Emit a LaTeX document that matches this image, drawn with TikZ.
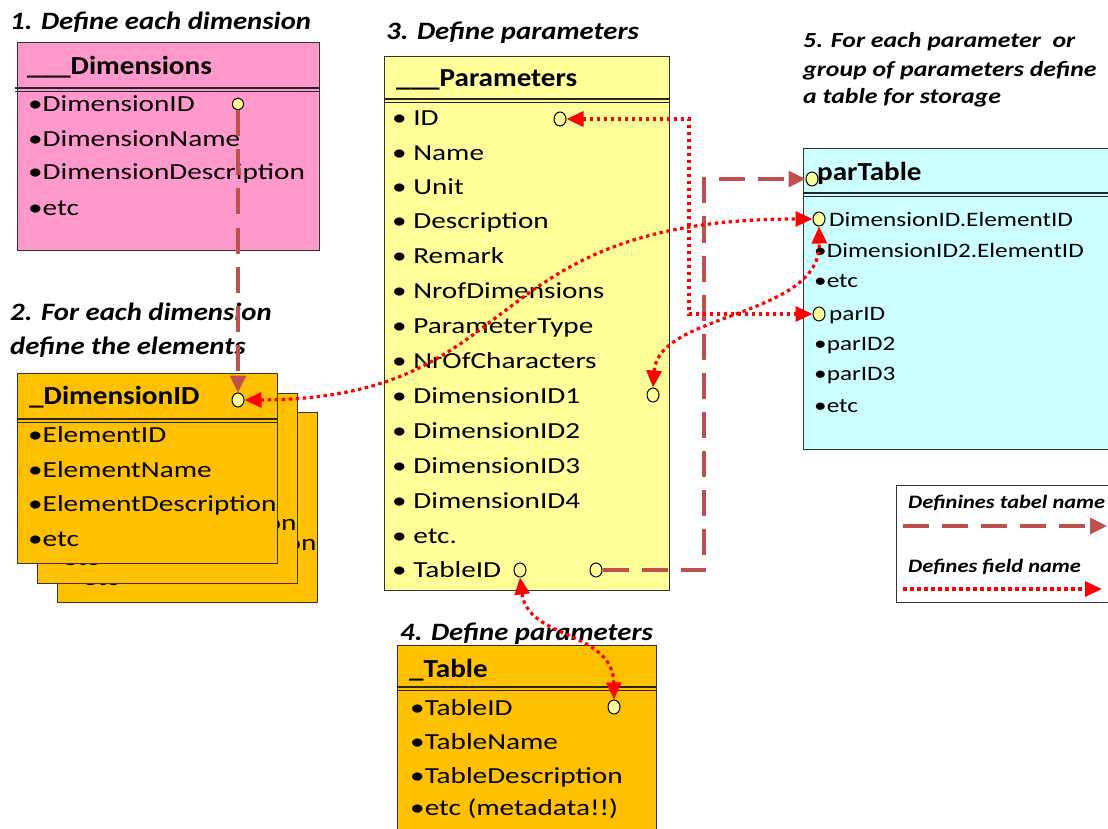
\documentclass[tikz,border=0pt]{standalone}
\usepackage{fontspec}
\setmainfont{Carlito}
\newfontfamily\fitm{Carlito}[FakeStretch=1.27]
\newfontfamily\fsitm{Carlito}[FakeStretch=1.23]
\newfontfamily\fttl{Carlito}[FakeStretch=1.15]
\newfontfamily\fsttl{Carlito}[FakeStretch=1.2]
\newfontfamily\fhdr{Carlito}[FakeStretch=1.12]
\newfontfamily\fleg{Carlito}[FakeStretch=1.18]
\usetikzlibrary{arrows.meta,shapes.geometric}
\definecolor{pinkbox}{HTML}{FF99CC}
\definecolor{orangebox}{HTML}{FFC000}
\definecolor{yellowbox}{HTML}{FFFF99}
\definecolor{cyanbox}{HTML}{CCFFFF}
\definecolor{portfill}{HTML}{FFFF99}
\definecolor{brownline}{HTML}{C0504D}
\tikzset{
 box/.style={draw=black!80, line width=1.3pt, inner sep=0, anchor=north west},
 ttl/.style={anchor=base west, inner sep=0, font=\fttl\fontsize{25}{30}\selectfont\bfseries\itshape},
 sttl/.style={anchor=base west, inner sep=0, font=\fsttl\fontsize{21.5}{26}\selectfont\bfseries\itshape},
 lttl/.style={anchor=base west, inner sep=0, font=\fleg\fontsize{19}{22}\selectfont\bfseries\itshape},
 hdr/.style={anchor=base west, inner sep=0, font=\fhdr\fontsize{26}{30}\selectfont\bfseries},
 itm/.style={anchor=base west, inner sep=0, font=\fitm\fontsize{23}{28}\selectfont},
 sitm/.style={anchor=base west, inner sep=0, font=\fsitm\fontsize{20.5}{24}\selectfont},
 port/.style={ellipse, draw=black, line width=1pt, fill=portfill, minimum width=12pt, minimum height=14pt, inner sep=0},
 hport/.style={port, fill=none},
 dline/.style={draw=black!85, line width=1.1pt},
 fld/.style={draw=red, line width=3.2pt, dash pattern=on 3.5pt off 3.5pt},
 tbl/.style={draw=brownline, line width=3.3pt, dash pattern=on 26pt off 13pt},
 rtip/.tip={Triangle[length=17pt,width=15pt]},
 btip/.tip={Triangle[length=17pt,width=16pt]},
}
\newcommand\elemcontent[1]{%
  \node[box, fill=orangebox, minimum width=260pt, minimum height=190pt] (#1box) at (17,373) {};
  \node[hdr] (#1h) at (29,404) {\_DimensionID};
  \node[itm] (#1a) at (28,442) {•ElementID};
  \node[itm] (#1b) at (28,477) {•ElementName};
  \node[itm] (#1c) at (28,511) {•ElementDescription};
  \node[itm] (#1d) at (28,546) {•etc};
}
\begin{document}
\begin{tikzpicture}[x=1pt,y=-1pt]
\useasboundingbox (0,0) rectangle (1108,829);
\clip (0,0) rectangle (1108,829);

% ---------- 1. Dimensions
\node[ttl] (t1) at (10,30) {1. Define each dimension};
\node[box, fill=pinkbox, minimum width=302pt, minimum height=208pt] (dimbox) at (17,42) {};
\node[hdr] (dimh) at (27,75) {\_\_\_Dimensions};
\draw[dline] (15,88) -- (319,88);
\draw[dline] (15,91.5) -- (319,91.5);
\node[itm] (dima) at (28,112) {•DimensionID};
\node[itm] (dimb) at (28,147) {•DimensionName};
\node[itm] (dimc) at (28,180) {•DimensionDescription};
\node[itm] (dimd) at (28,215) {•etc};

% ---------- 2. Elements (stacked)
\node[ttl] (t2a) at (10,320) {2. For each dimension};
\node[ttl] (t2b) at (10,354) {define the elements};
\begin{scope}[shift={(40,39)}]
  \elemcontent{eC}
\end{scope}
\begin{scope}[shift={(20,19.5)}]
  \elemcontent{eB}
\end{scope}
\elemcontent{eA}
\draw[dline] (17,419) -- (277,419);
\draw[dline] (17,422.5) -- (277,422.5);

% ---------- 3. Parameters
\node[ttl] (t3) at (386,40) {3. Define parameters};
\node[box, fill=yellowbox, minimum width=285pt, minimum height=534pt] (parbox) at (384,56) {};
\node[hdr] (parh) at (396,87) {\_\_\_Parameters};
\draw[dline] (384,99) -- (669,99);
\draw[dline] (384,102.5) -- (669,102.5);
\node[itm] (p1) at (392,126) {• ID};
\node[itm] (p2) at (392,161) {• Name};
\node[itm] (p3) at (392,195) {• Unit};
\node[itm] (p4) at (392,229) {• Description};
\node[itm] (p5) at (392,263) {• Remark};
\node[itm] (p6) at (392,298) {• NrofDimensions};
\node[itm] (p7) at (392,333) {• ParameterType};
\node[itm] (p8) at (392,368) {• NrOfCharacters};
\node[itm] (p9) at (392,403) {• DimensionID1};
\node[itm] (p10) at (392,438) {• DimensionID2};
\node[itm] (p11) at (392,473) {• DimensionID3};
\node[itm] (p12) at (392,508) {• DimensionID4};
\node[itm] (p13) at (392,543) {• etc.};
\node[itm] (p14) at (392,577) {• TableID};

% ---------- 4. Table
\node[ttl] (t4) at (400,640) {4. Define parameters};
\node[box, fill=orangebox, minimum width=259pt, minimum height=200pt] (tabbox) at (397,645) {};
\node[hdr] (tabh) at (409,677) {\_Table};
\draw[dline] (397,687) -- (656,687);
\draw[dline] (397,690.5) -- (656,690.5);
\node[itm] (ta) at (410,715) {•TableID};
\node[itm] (tb) at (410,749) {•TableName};
\node[itm] (tc) at (410,783) {•TableDescription};
\node[itm] (td) at (410,815) {•etc (metadata!!)};

% ---------- 5. parTable
\node[sttl] (t5a) at (803,48) {5. For each parameter\ \ or};
\node[sttl] (t5b) at (803,77) {group of parameters define};
\node[sttl] (t5c) at (803,104) {a table for storage};
\node[box, fill=cyanbox, minimum width=320pt, minimum height=301pt] (ptbox) at (803,148) {};
\node[hdr] (pth) at (817,181) {parTable};
\draw[dline] (803,193) -- (1120,193);
\draw[dline] (803,196.5) -- (1120,196.5);
\node[sitm] (pta) at (829,226) {DimensionID.ElementID};
\node[sitm] (ptb) at (814,257) {•DimensionID2.ElementID};
\node[sitm] (ptc) at (814,287) {•etc};
\node[sitm] (ptd) at (829,320) {parID};
\node[sitm] (pte) at (814,350) {•parID2};
\node[sitm] (ptf) at (814,380) {•parID3};
\node[sitm] (ptg) at (814,412) {•etc};

% ---------- legend
\node[box, fill=white, minimum width=230pt, minimum height=117pt] (legbox) at (896,485) {};
\node[lttl] (leg1) at (908,508) {Definines tabel name};
\node[lttl] (leg2) at (908,572) {Defines field name};
\coordinate (l1a) at (903,526);
\coordinate (l1b) at (1107,526);
\coordinate (l2a) at (903,589);
\coordinate (l2b) at (1102,589);

% ---------- ports
\node[port, minimum width=11pt, minimum height=12pt] (dimP) at (238,104) {};
\node[port] (dimidP) at (238,400) {};
\node[hport] (parIDp) at (560,119) {};
\node[hport] (dim1P) at (653,395) {};
\node[hport] (tblP1) at (520,570) {};
\node[hport] (tblP2) at (596,570) {};
\node[port] (ptHdr) at (812,179) {};
\node[port] (ptDE) at (819,219) {};
\node[port] (ptPar) at (819,314) {};
\node[port] (tabP) at (614,707) {};

\coordinate (idbend) at (689,119);
\coordinate (tbend) at (704,570);

% ---------- connectors
\draw[tbl,-btip] (dimP.south) -- (dimidP.north);
\draw[tbl,-btip] (tblP2.east) -- (tbend) |- (ptHdr.west);
\draw[fld,rtip-rtip] (parIDp.east) -- (idbend) |- (ptPar.west);
\draw[fld,rtip-rtip] (dimidP.east) .. controls (530,399) and (470,219) .. (ptDE.west);
\draw[fld,rtip-rtip] (dim1P.north) .. controls (658,312) and (821,318) .. (ptDE.south);
\draw[fld,rtip-rtip] (tblP1.south) .. controls (528,640) and (613,630) .. (tabP.north);

\draw[tbl,-btip] (l1a) -- (l1b);
\draw[fld,-rtip] (l2a) -- (l2b);
\end{tikzpicture}
\end{document}
